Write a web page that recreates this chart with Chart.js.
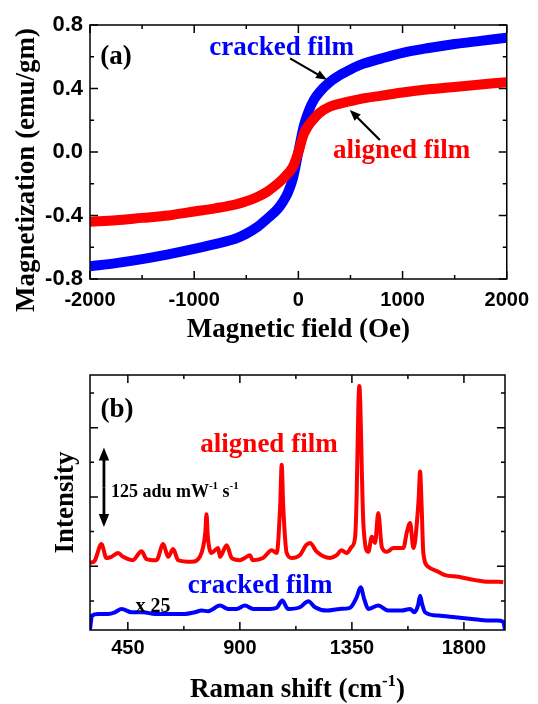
<!DOCTYPE html>
<html>
<head>
<meta charset="utf-8">
<script src="https://cdn.jsdelivr.net/npm/chart.js@4"></script>
<style>
  html, body { margin: 0; padding: 0; background: #fff; }
  #wrap { position: relative; width: 538px; height: 704px; }
  canvas { position: absolute; left: 0; }
  #chartA { top: 0; }
  #chartB { top: 345px; }
</style>
</head>
<body>
<div id="wrap">
  <canvas id="chartA" width="538" height="345"></canvas>
  <canvas id="chartB" width="538" height="359"></canvas>
</div>
<script>
// ---- panel (a): magnetization vs field ----
const fieldOe = [-2000, -1750, -1500, -1250, -1000, -800, -600, -500, -400, -300, -200, -150, -100, -50, 0,
  50, 100, 150, 200, 300, 400, 500, 600, 800, 1000, 1250, 1500, 1750, 2000];
const magCracked = [-0.72, -0.70, -0.675, -0.645, -0.61, -0.58, -0.545, -0.515, -0.475, -0.42, -0.36, -0.315, -0.255, -0.16, 0.0,
  0.16, 0.26, 0.33, 0.375, 0.44, 0.485, 0.52, 0.55, 0.59, 0.625, 0.655, 0.68, 0.70, 0.72];
const magAligned = [-0.44, -0.43, -0.415, -0.40, -0.375, -0.355, -0.33, -0.31, -0.285, -0.25, -0.20, -0.17, -0.135, -0.09, 0.0,
  0.11, 0.17, 0.21, 0.245, 0.285, 0.305, 0.32, 0.335, 0.355, 0.375, 0.395, 0.41, 0.425, 0.44];
const xTicksA = [-2000, -1000, 0, 1000, 2000];
const xMinorA = [-1500, -500, 500, 1500];
const yTicksA = [-0.8, -0.4, 0.0, 0.4, 0.8];
const yMinorA = [-0.6, -0.2, 0.2, 0.6];

// ---- panel (b): Raman spectra (offset, adu) ----
const shiftAligned = [298, 317, 344, 364, 384, 411, 431, 470, 505, 525, 565, 592, 612, 632, 652, 706, 739, 761, 766, 771,
  786, 813, 820, 847, 867, 900, 920, 940, 952, 993, 1028, 1048, 1062, 1068, 1074, 1088, 1108, 1141, 1166, 1182,
  1209, 1262, 1289, 1308, 1329, 1349, 1363, 1369, 1376, 1380, 1384, 1390, 1396, 1416, 1430, 1443, 1456, 1470, 1490, 1517,
  1557, 1570, 1584, 1597, 1618, 1624, 1630, 1637, 1657, 1697, 1724, 1778, 1845, 1898, 1939, 1958];
const intAligned = [6, 10, 40, 15, 17, 24, 17, 11, 27, 13, 11, 40, 17, 31, 11, 8, 17, 60, 94, 55,
  24, 33, 17, 38, 15, 11, 15, 20, 11, 15, 29, 24, 110, 183, 110, 24, 15, 20, 38, 42,
  26, 15, 20, 29, 24, 35, 53, 125, 290, 325, 290, 170, 78, 26, 53, 42, 96, 35, 26, 33,
  33, 60, 78, 33, 120, 171, 110, 24, -1, -10, -16, -19, -25, -28, -28, -29];
const shiftCracked = [298, 306, 331, 371, 398, 425, 465, 512, 559, 626, 679, 719, 746, 773, 820, 853, 887, 920, 954, 1021,
  1048, 1070, 1094, 1141, 1175, 1202, 1249, 1302, 1342, 1369, 1385, 1400, 1416, 1456, 1496, 1550, 1584, 1601, 1616, 1624,
  1632, 1644, 1697, 1765, 1832, 1898, 1932, 1958, 1965];
const intCracked = [-114, -89, -86, -86, -83, -77, -83, -83, -86, -86, -86, -83, -80, -81, -71, -77, -77, -71, -77, -77,
  -75, -62, -77, -74, -63, -74, -80, -77, -75, -56, -38, -60, -77, -71, -80, -80, -77, -83, -70, -53,
  -68, -83, -89, -92, -95, -98, -98, -100, -114];
const xTicksB = [450, 900, 1350, 1800];
const xMinorB = [675, 1125, 1575];
const yMajorB = [0, 125, 250];
const yMinorB = [-62.5, 62.5, 187.5, 312.5];

const RED = "#ff0000";
const BLUE = "#0000ff";
const SERIF = '"Liberation Serif", "Times New Roman", serif';
const SANS = '"Liberation Sans", Arial, sans-serif';

// box around the plot with inward major/minor ticks on all four sides
const frameTicks = {
  id: "frameTicks",
  afterDatasetsDraw(chart, args, o) {
    const { ctx, chartArea: a, scales: { x, y } } = chart;
    ctx.save();
    ctx.strokeStyle = "#000";
    ctx.lineWidth = 1.5;
    ctx.beginPath();
    const xm = (vals, len) => vals.forEach((v) => {
      const p = x.getPixelForValue(v);
      ctx.moveTo(p, a.bottom); ctx.lineTo(p, a.bottom - len);
      ctx.moveTo(p, a.top); ctx.lineTo(p, a.top + len);
    });
    const ym = (vals, len) => vals.forEach((v) => {
      const p = y.getPixelForValue(v);
      ctx.moveTo(a.left, p); ctx.lineTo(a.left + len, p);
      ctx.moveTo(a.right, p); ctx.lineTo(a.right - len, p);
    });
    xm(o.xMajor, 8); xm(o.xMinor, 4);
    ym(o.yMajor, 8); ym(o.yMinor, 4);
    ctx.stroke();
    ctx.strokeRect(a.left, a.top, a.right - a.left, a.bottom - a.top);
    ctx.restore();
  }
};

// text with superscript pieces: parts = [[text, isSup], ...]
function richText(ctx, parts, x, y, size, align) {
  const supSize = Math.round(size * 0.62);
  const widths = parts.map(([t, sup]) => {
    ctx.font = "bold " + (sup ? supSize : size) + "px " + SERIF;
    return ctx.measureText(t).width;
  });
  const total = widths.reduce((s, w) => s + w, 0);
  let cx = align === "center" ? x - total / 2 : x;
  ctx.textAlign = "left";
  ctx.textBaseline = "alphabetic";
  parts.forEach(([t, sup], i) => {
    ctx.font = "bold " + (sup ? supSize : size) + "px " + SERIF;
    ctx.fillText(t, cx, sup ? y - size * 0.42 : y);
    cx += widths[i];
  });
}

function arrow(ctx, x1, y1, x2, y2, head, width) {
  const ang = Math.atan2(y2 - y1, x2 - x1);
  ctx.lineWidth = width;
  ctx.beginPath();
  ctx.moveTo(x1, y1);
  ctx.lineTo(x2 - Math.cos(ang) * head * 0.8, y2 - Math.sin(ang) * head * 0.8);
  ctx.stroke();
  ctx.beginPath();
  ctx.moveTo(x2, y2);
  ctx.lineTo(x2 - head * Math.cos(ang) + head * 0.4 * Math.sin(ang), y2 - head * Math.sin(ang) - head * 0.4 * Math.cos(ang));
  ctx.lineTo(x2 - head * Math.cos(ang) - head * 0.4 * Math.sin(ang), y2 - head * Math.sin(ang) + head * 0.4 * Math.cos(ang));
  ctx.closePath();
  ctx.fill();
}

const notesA = {
  id: "notesA",
  afterDraw(chart) {
    const { ctx, chartArea: a, scales: { x, y } } = chart;
    ctx.save();
    ctx.fillStyle = "#000";
    ctx.strokeStyle = "#000";
    ctx.font = "bold 27px " + SERIF;
    ctx.textAlign = "center";
    ctx.textBaseline = "alphabetic";
    ctx.fillText("(a)", x.getPixelForValue(-1750), y.getPixelForValue(0.555));
    ctx.fillStyle = BLUE;
    ctx.fillText("cracked film", x.getPixelForValue(-160), y.getPixelForValue(0.61));
    ctx.fillStyle = RED;
    ctx.fillText("aligned film", x.getPixelForValue(990), y.getPixelForValue(-0.04));
    ctx.fillStyle = "#000";
    arrow(ctx, x.getPixelForValue(-80), y.getPixelForValue(0.59), x.getPixelForValue(275), y.getPixelForValue(0.455), 11, 2.2);
    arrow(ctx, x.getPixelForValue(782), y.getPixelForValue(0.076), x.getPixelForValue(494), y.getPixelForValue(0.265), 11, 2.2);
    // axis titles
    ctx.font = "bold 27px " + SERIF;
    ctx.fillText("Magnetic field (Oe)", (a.left + a.right) / 2, 337);
    ctx.translate(34, 170);
    ctx.rotate(-Math.PI / 2);
    ctx.fillText("Magnetization (emu/gm)", 0, 0);
    ctx.restore();
  }
};

const notesB = {
  id: "notesB",
  afterDraw(chart) {
    const { ctx, chartArea: a, scales: { x, y } } = chart;
    ctx.save();
    ctx.fillStyle = "#000";
    ctx.strokeStyle = "#000";
    ctx.font = "bold 27px " + SERIF;
    ctx.textAlign = "center";
    ctx.textBaseline = "alphabetic";
    ctx.fillText("(b)", x.getPixelForValue(406), y.getPixelForValue(270));
    ctx.fillStyle = RED;
    ctx.fillText("aligned film", x.getPixelForValue(1017), y.getPixelForValue(206));
    ctx.fillStyle = BLUE;
    ctx.fillText("cracked film", x.getPixelForValue(981), y.getPixelForValue(-49));
    ctx.fillStyle = "#000";
    ctx.font = "bold 20px " + SERIF;
    ctx.fillText("x 25", x.getPixelForValue(551), y.getPixelForValue(-82));
    // scale bar
    const ax = x.getPixelForValue(354);
    const top = y.getPixelForValue(214), bot = y.getPixelForValue(71);
    arrow(ctx, ax, (top + bot) / 2, ax, top, 13, 2.8);
    arrow(ctx, ax, (top + bot) / 2, ax, bot, 13, 2.8);
    richText(ctx, [["125 adu mW", false], ["-1", true], [" s", false], ["-1", true]],
      x.getPixelForValue(382), y.getPixelForValue(125), 18, "left");
    // axis titles
    richText(ctx, [["Raman shift (cm", false], ["-1", true], [")", false]], (a.left + a.right) / 2, 352, 27, "center");
    ctx.font = "bold 27px " + SERIF;
    ctx.textAlign = "center";
    ctx.translate(73, (a.top + a.bottom) / 2);
    ctx.rotate(-Math.PI / 2);
    ctx.fillText("Intensity", 0, 0);
    ctx.restore();
  }
};

const tickFont = { family: SANS, weight: "bold", size: 20 };
const yTickFont = { family: SANS, weight: "bold", size: 22 };

new Chart(document.getElementById("chartA"), {
  type: "line",
  data: {
    labels: fieldOe,
    datasets: [
      { label: "aligned film", data: fieldOe.map((h, i) => ({ x: h, y: magAligned[i] })),
        borderColor: RED, borderWidth: 10, pointRadius: 0, cubicInterpolationMode: "monotone", clip: 0 },
      { label: "cracked film", data: fieldOe.map((h, i) => ({ x: h, y: magCracked[i] })),
        borderColor: BLUE, borderWidth: 10, pointRadius: 0, cubicInterpolationMode: "monotone", clip: 0 }
    ]
  },
  options: {
    responsive: false,
    animation: false,
    layout: { padding: { left: 0, right: 31, top: 25, bottom: 0 } },
    plugins: {
      legend: { display: false },
      tooltip: { enabled: false },
      frameTicks: { xMajor: xTicksA, xMinor: xMinorA, yMajor: yTicksA, yMinor: yMinorA }
    },
    scales: {
      x: {
        type: "linear", min: -2000, max: 2000,
        grid: { display: false, drawTicks: false }, border: { display: false },
        afterBuildTicks: (s) => { s.ticks = xTicksA.map((v) => ({ value: v })); },
        afterFit: (s) => { s.height = 66; },
        ticks: { autoSkip: false, maxRotation: 0, padding: 9, color: "#000", font: tickFont, callback: (v) => String(v) }
      },
      y: {
        type: "linear", min: -0.8, max: 0.8,
        grid: { display: false, drawTicks: false }, border: { display: false },
        afterBuildTicks: (s) => { s.ticks = yTicksA.map((v) => ({ value: v })); },
        afterFit: (s) => { s.width = 90; },
        ticks: { autoSkip: false, padding: 7, color: "#000", font: yTickFont, callback: (v) => v.toFixed(1) }
      }
    }
  },
  plugins: [frameTicks, notesA]
});

new Chart(document.getElementById("chartB"), {
  type: "line",
  data: {
    datasets: [
      { label: "aligned film", data: shiftAligned.map((w, i) => ({ x: w, y: intAligned[i] })),
        borderColor: RED, borderWidth: 4, pointRadius: 0, cubicInterpolationMode: "monotone" },
      { label: "cracked film", data: shiftCracked.map((w, i) => ({ x: w, y: intCracked[i] })),
        borderColor: BLUE, borderWidth: 4, pointRadius: 0, cubicInterpolationMode: "monotone" }
    ]
  },
  options: {
    responsive: false,
    animation: false,
    layout: { padding: { left: 0, right: 33, top: 30, bottom: 0 } },
    plugins: {
      legend: { display: false },
      tooltip: { enabled: false },
      frameTicks: { xMajor: xTicksB, xMinor: xMinorB, yMajor: yMajorB, yMinor: yMinorB }
    },
    scales: {
      x: {
        type: "linear", min: 298, max: 1965,
        grid: { display: false, drawTicks: false }, border: { display: false },
        afterBuildTicks: (s) => { s.ticks = xTicksB.map((v) => ({ value: v })); },
        afterFit: (s) => { s.height = 74; },
        ticks: { autoSkip: false, maxRotation: 0, padding: 6, color: "#000", font: tickFont, callback: (v) => String(v) }
      },
      y: {
        type: "linear", min: -115, max: 345,
        grid: { display: false, drawTicks: false }, border: { display: false },
        afterFit: (s) => { s.width = 90; },
        ticks: { display: false }
      }
    }
  },
  plugins: [frameTicks, notesB]
});
</script>
</body>
</html>
